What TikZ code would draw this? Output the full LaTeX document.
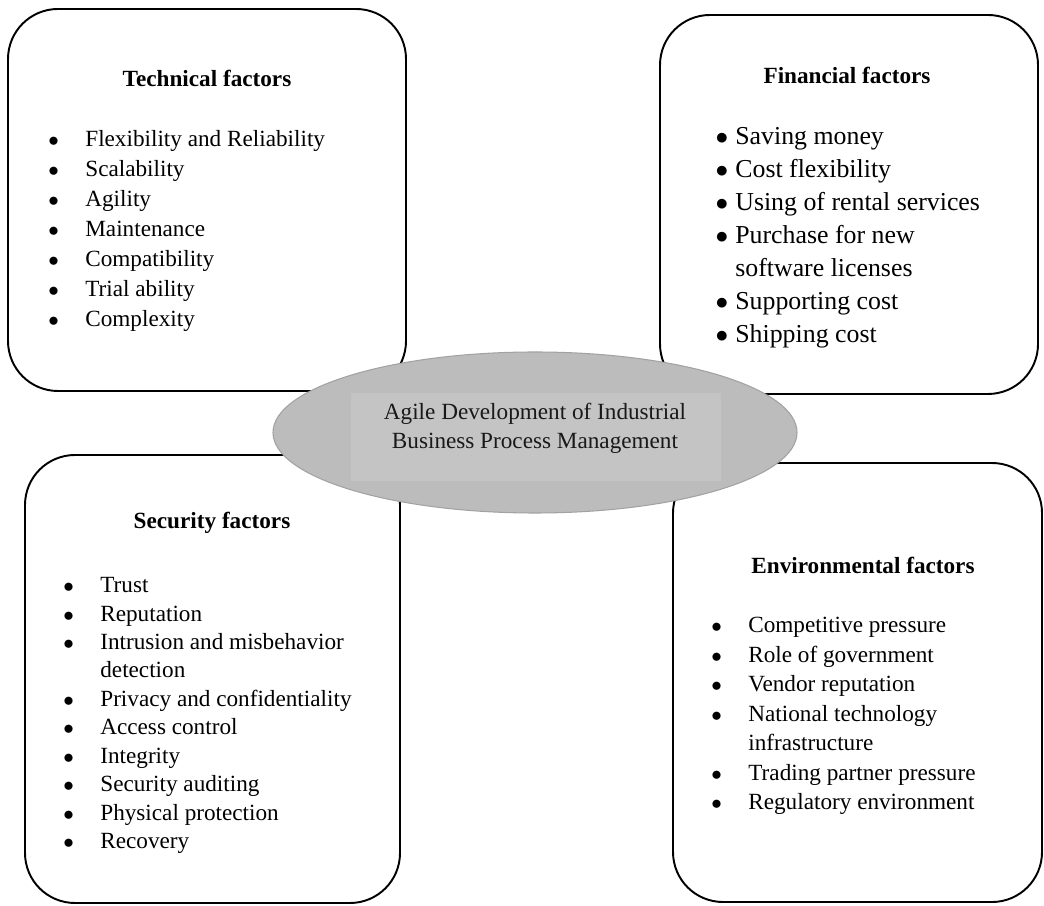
\documentclass[tikz,border=0pt]{standalone}
\usepackage{fontspec}
\setmainfont{Liberation Serif}
\usetikzlibrary{shapes.geometric}

\definecolor{corefill}{HTML}{BCBCBC}
\definecolor{coreline}{HTML}{A2A2A2}
\definecolor{bandfill}{HTML}{C4C4C4}

\newcommand{\itm}{\leavevmode\llap{$\bullet$\hspace{15pt}}}
\newcommand{\fitm}{\leavevmode\llap{$\bullet$\hspace{4pt}}}

\begin{document}
\begin{tikzpicture}[
    box/.style={draw, line width=1.1pt, rounded corners=1cm, inner sep=0pt},
    head/.style={font=\bfseries\fontsize{13.2}{16}\selectfont},
    list/.style={align=left, inner sep=0pt, anchor=north west, font=\fontsize{13.2}{#1}\selectfont},
    list/.default=17.1pt
]

    \useasboundingbox (0, 0) rectangle (20.88, 18.10);

    \node[box, minimum width=7.96cm, minimum height=7.64cm] (tech) at (4.14, 14.10) {};
    \node[box, minimum width=7.56cm, minimum height=7.58cm] (fin) at (16.98, 14.01) {};
    \node[box, minimum width=7.50cm, minimum height=8.96cm] (sec) at (4.25, 4.52) {};
    \node[box, minimum width=7.38cm, minimum height=8.78cm] (env) at (17.15, 4.45) {};

    \node[head] (techhead) at (4.14, 16.54) {Technical factors};
    \node[head] (finhead) at (16.94, 16.60) {Financial factors};
    \node[head] (sechead) at (4.24, 7.64) {Security factors};
    \node[head] (envhead) at (17.26, 6.80) {Environmental factors};

    \node[list] (techlist) at (1.70, 15.50) {\itm Flexibility and Reliability\\ \itm Scalability\\ \itm Agility\\
        \itm Maintenance\\ \itm Compatibility\\ \itm Trial ability\\ \itm Complexity};
    \node[list, font=\fontsize{14.7}{18.8}\selectfont] (finlist) at (14.70, 15.56) {\fitm Saving money\\ \fitm Cost flexibility\\
        \fitm Using of rental services\\ \fitm Purchase for new\\ software licenses\\ \fitm Supporting cost\\ \fitm Shipping cost};
    \node[list=16.2pt] (seclist) at (2.00, 6.56) {\itm Trust\\ \itm Reputation\\ \itm Intrusion and misbehavior\\ detection\\
        \itm Privacy and confidentiality\\ \itm Access control\\ \itm Integrity\\ \itm Security auditing\\
        \itm Physical protection\\ \itm Recovery};
    \node[list=16.8pt] (envlist) at (14.96, 5.76) {\itm Competitive pressure\\ \itm Role of government\\ \itm Vendor reputation\\
        \itm National technology\\ infrastructure\\ \itm Trading partner pressure\\ \itm Regulatory environment};

    \node[ellipse, draw=coreline, line width=0.6pt, fill=corefill, inner sep=0pt,
          minimum width=10.48cm, minimum height=3.22cm] (core) at (10.70, 9.45) {};
    \node[fill=bandfill, inner sep=0pt, minimum width=7.40cm, minimum height=1.76cm] (band) at (10.72, 9.36) {};
    \node[align=center, text=black!90, font=\fontsize{13.2}{16.5}\selectfont] (goal) at (10.70, 9.53)
        {Agile Development of Industrial\\Business Process Management};

\end{tikzpicture}
\end{document}
